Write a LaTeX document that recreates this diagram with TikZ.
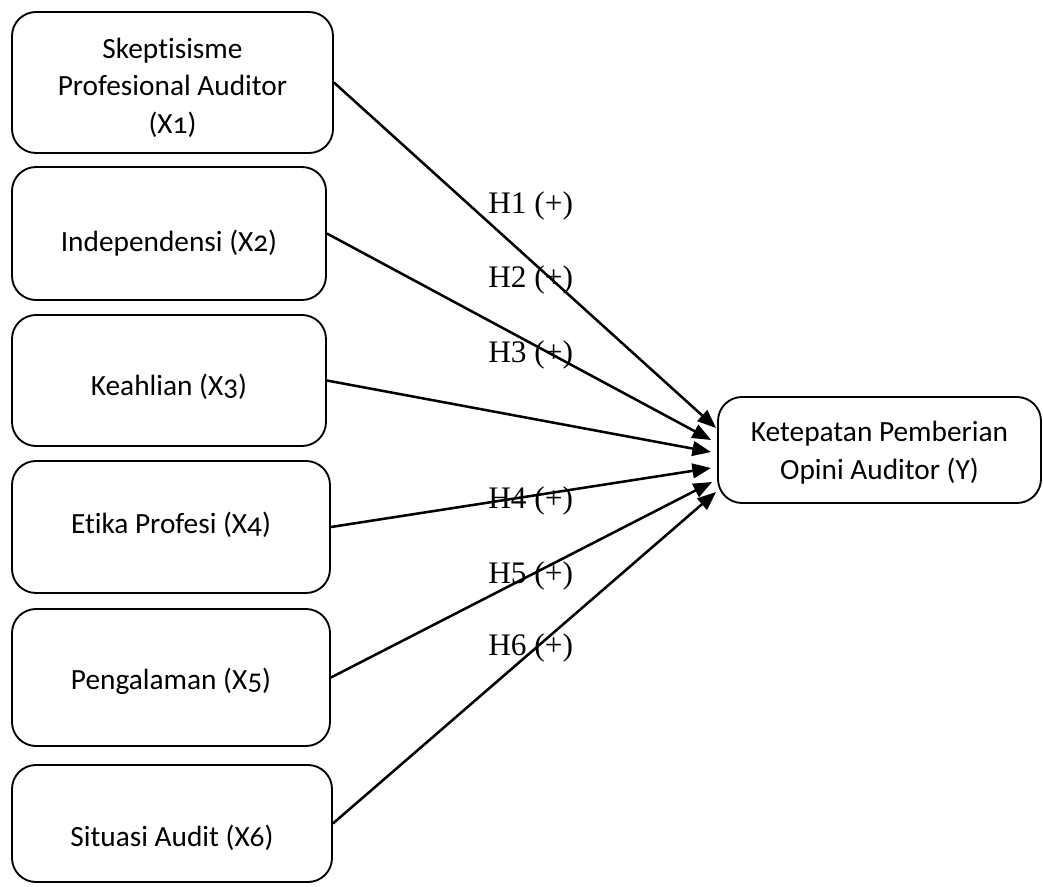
\documentclass[tikz,border=0pt]{standalone}
\usepackage{fontspec}
\setmainfont{Carlito}[Numbers=OldStyle,Ligatures=NoCommon]
\newfontfamily\timesf{Liberation Serif}
\usetikzlibrary{arrows.meta,calc}
\begin{document}
\begin{tikzpicture}[x=0.75pt,y=-0.75pt,
  box/.style={draw,line width=1.4pt,rounded corners=18pt,inner sep=0pt},
  conn/.style={line width=1.9pt,-{Triangle[length=14pt,width=11pt]}},
  hyp/.style={font=\timesf\fontsize{23.5}{27}\selectfont,anchor=base west,inner sep=0pt},
  btext/.style={align=center,inner sep=0pt,font=\fontsize{22}{28}\selectfont}]
\useasboundingbox (0,0) rectangle (1043,886);

\node[box,minimum width=240.75pt,minimum height=105.75pt,
  label={[btext,yshift=-4pt]center:Skeptisisme\\Profesional Auditor\\(X1)}] (b1) at (172.5,82.5) {};
\node[box,minimum width=235.5pt,minimum height=99.75pt,
  label={[btext,yshift=-7.5pt]center:Independensi (X2)}] (b2) at (169,233.5) {};
\node[box,minimum width=235.5pt,minimum height=98.25pt,
  label={[btext,yshift=-5pt]center:Keahlian (X3)}] (b3) at (169,380.5) {};
\node[box,minimum width=238.5pt,minimum height=99pt,
  label={[btext,yshift=1.5pt]center:Etika Profesi (X4)}] (b4) at (171,527) {};
\node[box,minimum width=238.5pt,minimum height=102.75pt,
  label={[btext,yshift=-2.5pt]center:Pengalaman (X5)}] (b5) at (171,677.5) {};
\node[box,minimum width=240pt,minimum height=87.75pt,
  label={[btext,yshift=-11pt]center:Situasi Audit (X6)}] (b6) at (172,823.5) {};

\node[box,minimum width=242.25pt,minimum height=79.5pt,
  label={[btext,yshift=-2pt,font=\fontsize{22}{29}\selectfont]center:Ketepatan Pemberian\\Opini Auditor (Y)}] (Y) at (879.5,450) {};

\draw[conn] (b1.east) -- ($(Y.west)+(-1,-22)$);
\draw[conn] (b2.east) -- ($(Y.west)+(-6,-10)$);
\draw[conn] (b3.east) -- ($(Y.west)+(-6,2)$);
\draw[conn] (b4.east) -- ($(Y.west)+(-6,18)$);
\draw[conn] (b5.east) -- ($(Y.west)+(-5,32)$);
\draw[conn] (b6.east) -- ($(Y.west)+(-1,42)$);

\node[hyp] (h1) at (488,213) {H1 (+)};
\node[hyp] (h2) at (488,287) {H2 (+)};
\node[hyp] (h3) at (488,362) {H3 (+)};
\node[hyp] (h4) at (488,508) {H4 (+)};
\node[hyp] (h5) at (488,583) {H5 (+)};
\node[hyp] (h6) at (488,655) {H6 (+)};
\end{tikzpicture}
\end{document}
